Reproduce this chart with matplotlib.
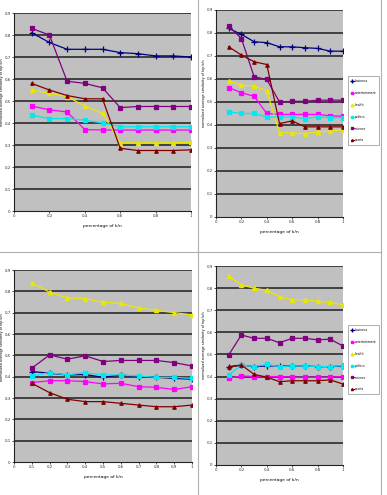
import numpy as np
import matplotlib
matplotlib.use("Agg")
from matplotlib import pyplot as plt
from matplotlib.lines import Line2D

# k/n fraction on the x axis
k_n = [0.1, 0.2, 0.3, 0.4, 0.5, 0.6, 0.7, 0.8, 0.9, 1.0]
topics = ["business", "entertainment", "health", "politics", "science", "sports"]

# top-left chart
tl_business = [0.81, 0.766, 0.735, 0.735, 0.735, 0.72, 0.715, 0.705, 0.705, 0.70]
tl_entertainment = [0.477, 0.46, 0.45, 0.37, 0.368, 0.368, 0.368, 0.368, 0.368, 0.368]
tl_health = [0.55, 0.535, 0.52, 0.477, 0.444, 0.31, 0.31, 0.31, 0.31, 0.312]
tl_politics = [0.436, 0.42, 0.42, 0.413, 0.40, 0.383, 0.383, 0.383, 0.383, 0.383]
tl_science = [0.83, 0.80, 0.59, 0.58, 0.56, 0.47, 0.475, 0.475, 0.475, 0.475]
tl_sports = [0.58, 0.55, 0.525, 0.51, 0.51, 0.285, 0.275, 0.275, 0.275, 0.278]

# top-right chart
tr_business = [0.82, 0.794, 0.762, 0.758, 0.74, 0.74, 0.736, 0.733, 0.721, 0.721]
tr_entertainment = [0.563, 0.54, 0.525, 0.45, 0.446, 0.446, 0.446, 0.446, 0.44, 0.438]
tr_health = [0.59, 0.573, 0.569, 0.549, 0.366, 0.366, 0.363, 0.37, 0.373, 0.38]
tr_politics = [0.457, 0.45, 0.45, 0.435, 0.435, 0.435, 0.428, 0.435, 0.432, 0.432]
tr_science = [0.83, 0.776, 0.61, 0.598, 0.50, 0.503, 0.503, 0.508, 0.508, 0.508]
tr_sports = [0.74, 0.704, 0.675, 0.663, 0.406, 0.418, 0.392, 0.392, 0.392, 0.392]

# bottom-left chart
bl_business = [0.424, 0.416, 0.408, 0.41, 0.397, 0.408, 0.40, 0.397, 0.392, 0.388]
bl_entertainment = [0.372, 0.381, 0.381, 0.377, 0.366, 0.369, 0.353, 0.35, 0.34, 0.353]
bl_health = [0.84, 0.796, 0.77, 0.766, 0.749, 0.743, 0.722, 0.711, 0.70, 0.69]
bl_politics = [0.403, 0.419, 0.408, 0.419, 0.408, 0.408, 0.403, 0.397, 0.397, 0.392]
bl_science = [0.44, 0.502, 0.482, 0.498, 0.471, 0.476, 0.476, 0.476, 0.466, 0.45]
bl_sports = [0.369, 0.325, 0.294, 0.283, 0.283, 0.275, 0.267, 0.259, 0.259, 0.267]

# bottom-right chart
br_business = [0.445, 0.452, 0.445, 0.448, 0.448, 0.448, 0.448, 0.445, 0.445, 0.448]
br_entertainment = [0.392, 0.403, 0.40, 0.40, 0.40, 0.397, 0.397, 0.397, 0.397, 0.40]
br_health = [0.855, 0.814, 0.80, 0.79, 0.762, 0.747, 0.747, 0.74, 0.735, 0.724]
br_politics = [0.407, 0.452, 0.445, 0.455, 0.445, 0.448, 0.448, 0.445, 0.445, 0.45]
br_science = [0.498, 0.588, 0.573, 0.573, 0.553, 0.573, 0.573, 0.566, 0.569, 0.538]
br_sports = [0.442, 0.452, 0.41, 0.397, 0.377, 0.381, 0.381, 0.381, 0.385, 0.366]

colors = ["#000080", "#ff00ff", "#e8e800", "#00e8f0", "#800080", "#800000"]
markers = ["+", "s", "^", "s", "s", "^"]
msizes = [4, 2.5, 3, 3, 3.5, 2.5]

W, H = 387, 495
fig = plt.figure(figsize=(W / 100, H / 100), dpi=100)
fig.patch.set_facecolor("white")


def fmt(v, sep):
    if abs(v) < 1e-9:
        return "0"
    if abs(v - 1) < 1e-9:
        return "1"
    return ("%.1f" % v).replace(".", sep)


def panel(px, series, xticks, sep, ylab_x, legend_box=None):
    x0, y0, x1, y1 = px
    ax = fig.add_axes([x0 / W, 1 - y1 / H, (x1 - x0) / W, (y1 - y0) / H])
    ax.set_facecolor("#c0c0c0")
    for yv in np.arange(0.1, 0.91, 0.1):
        ax.axhline(yv, color="#2a2a2a", lw=1.2, zorder=1)
    for vals, c, m, ms in zip(series, colors, markers, msizes):
        ax.plot(k_n, vals, color=c, lw=0.9, marker=m, markersize=ms,
                markeredgewidth=0.9, zorder=3)
    ax.set_xlim(0, 1)
    ax.set_ylim(0, 0.9)
    ax.set_xticks(xticks)
    ax.set_xticklabels([fmt(v, sep) for v in xticks], fontsize=2.9)
    yt = np.round(np.arange(0, 0.91, 0.1), 1)
    ax.set_yticks(yt)
    ax.set_yticklabels([fmt(v, sep) for v in yt], fontsize=2.9)
    ax.tick_params(length=1.5, width=0.6, pad=1, colors="#333333")
    for s in ["top", "right"]:
        ax.spines[s].set_visible(False)
    for s in ["left", "bottom"]:
        ax.spines[s].set_linewidth(0.8)
        ax.spines[s].set_color("#222222")
    ax.set_xlabel("percentage of k/n", fontsize=3.2, labelpad=4)
    ax.set_ylabel("normalized average similarity of top k/n", fontsize=2.4)
    # axis title sits at the far left of the chart frame
    ax.yaxis.set_label_coords(-(x0 - ylab_x) / (x1 - x0), 0.6)
    if legend_box is not None:
        lx0, ly0, lx1, ly1 = legend_box
        handles = [Line2D([], [], color=c, marker=m, markersize=ms * 0.6, lw=0.7)
                   for c, m, ms in zip(colors, markers, msizes)]
        leg = fig.legend(handles, topics, loc="upper left",
                         bbox_to_anchor=(lx0 / W, 1 - ly0 / H),
                         fontsize=2.2, frameon=True, fancybox=False,
                         handlelength=1.0, labelspacing=2.6,
                         borderpad=0.9, handletextpad=0.4, borderaxespad=0)
        leg.get_frame().set_edgecolor("#888888")
        leg.get_frame().set_linewidth(0.6)
    return ax


panel((14, 13, 191, 211),
      [tl_business, tl_entertainment, tl_health, tl_politics, tl_science, tl_sports],
      [0, 0.2, 0.4, 0.6, 0.8, 1.0], ",", 4.5)
panel((216, 10, 343, 217),
      [tr_business, tr_entertainment, tr_health, tr_politics, tr_science, tr_sports],
      [0, 0.2, 0.4, 0.6, 0.8, 1.0], ".", 206, legend_box=(348, 76, 379, 157))
panel((14, 270, 192, 462),
      [bl_business, bl_entertainment, bl_health, bl_politics, bl_science, bl_sports],
      [round(v, 1) for v in np.arange(0, 1.01, 0.1)], ",", 4.5)
panel((216, 266, 343, 465),
      [br_business, br_entertainment, br_health, br_politics, br_science, br_sports],
      [0, 0.2, 0.4, 0.6, 0.8, 1.0], ".", 206, legend_box=(348, 325, 379, 407))

# chart frame lines
fig.add_artist(Line2D([198 / W, 198 / W], [0, 1], color="#b0b0b0", lw=0.8))
fig.add_artist(Line2D([0, 381 / W], [1 - 252 / H, 1 - 252 / H], color="#b0b0b0", lw=0.8))
fig.add_artist(Line2D([381 / W, 381 / W], [0, 1], color="#b0b0b0", lw=0.8))

fig.savefig("out.png", dpi=100)
